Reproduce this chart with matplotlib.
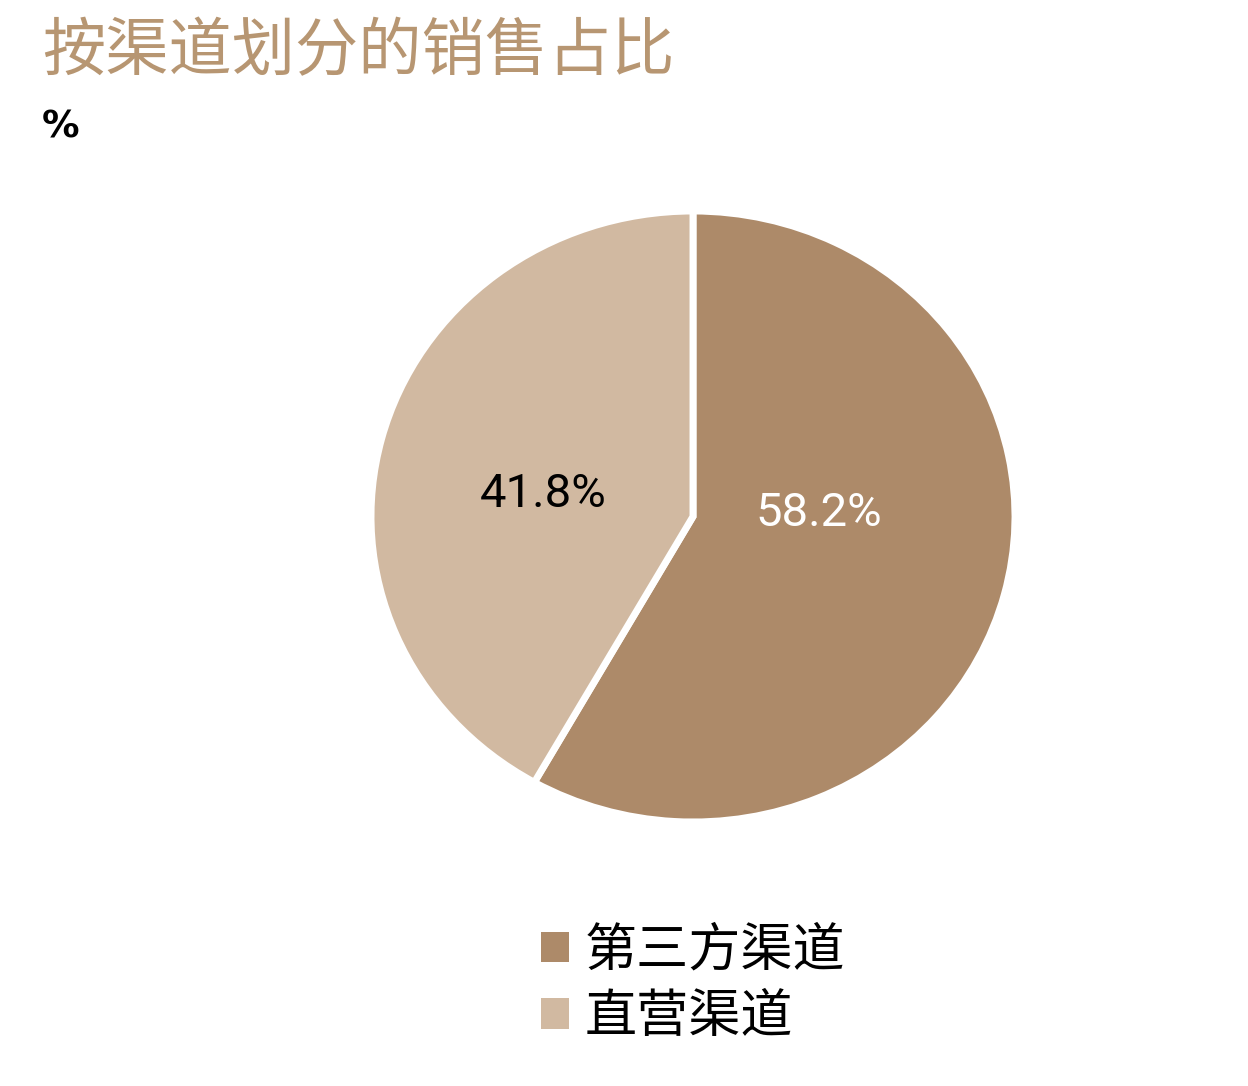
import matplotlib
matplotlib.use("Agg")
import matplotlib.pyplot as plt
from matplotlib.patches import Patch

plt.rcParams["font.family"] = ["Noto Sans CJK SC", "DejaVu Sans"]

# 数据
channels = ["第三方渠道", "直营渠道"]
shares = [58.2, 41.8]
colors = ["#AD8A69", "#D1B9A1"]
label_colors = ["white", "black"]

title = "按渠道划分的销售占比"
unit = "%"

fig = plt.figure(figsize=(12.48, 10.86), dpi=100)

# 饼图区域（像素 373-1013 × 213-820）
W, H = 1248, 1086
ax = fig.add_axes([371 / W, 1 - 822 / H, 644 / W, 611 / H])

wedges, _, autotexts = ax.pie(
    shares,
    colors=colors,
    startangle=90,
    counterclock=False,
    autopct=lambda p: f"{p:.1f}%",
    pctdistance=0.45,
    wedgeprops=dict(edgecolor="white", linewidth=5),
    textprops=dict(fontsize=34, family="Roboto"),
)
ax.set_aspect("auto")
ax.set_xlim(-1.0, 1.0)
ax.set_ylim(-1.0, 1.0)

# 标签微调
offsets = [(-0.045, 0.125), (-0.03, -0.04)]
for t, c, (dx, dy) in zip(autotexts, label_colors, offsets):
    x, y = t.get_position()
    t.set_position((x + dx, y + dy))
    t.set_color(c)

fig.text(42 / W, 1 - 52 / H, title, fontsize=45.5, color="#B79672",
         va="center", ha="left")
fig.text(42 / W, 1 - 127 / H, unit, fontsize=27, fontweight="bold",
         color="black", va="center", ha="left", family="DejaVu Sans")

handles = [Patch(facecolor=c, edgecolor="none") for c in colors]
fig.legend(
    handles, channels,
    loc="upper left",
    bbox_to_anchor=(515 / W, 1 - 898 / H),
    frameon=False,
    fontsize=37.5,
    handlelength=0.53,
    handleheight=0.53,
    handletextpad=0.3,
    labelspacing=0.25,
    borderpad=0.0,
)

fig.savefig("out.png", dpi=100, facecolor="white")
